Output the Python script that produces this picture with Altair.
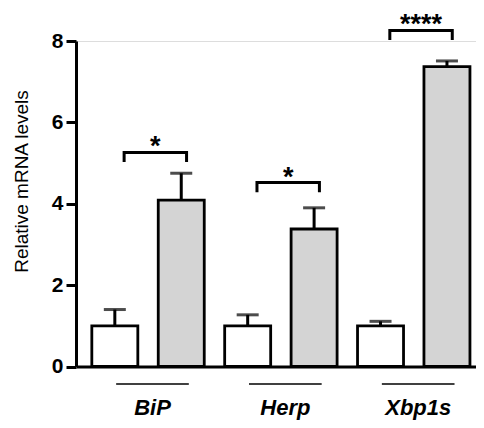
import altair as alt
import pandas as pd

# ---- data ----
genes = ["BiP", "Herp", "Xbp1s"]
control_mean = [1.0, 1.0, 1.0]
control_sem = [0.40, 0.27, 0.11]
treated_mean = [4.09, 3.38, 7.37]
treated_sem = [0.66, 0.52, 0.14]
bracket_y = [5.26, 4.52, 8.26]
stars = ["*", "*", "****"]
y_ticks = [0, 2, 4, 6, 8]

FONT = "Liberation Sans"
W, H = 400, 325.5

rows = []
for i, g in enumerate(genes):
    rows.append({"gene": g, "idx": i, "cond": "control", "mean": control_mean[i], "sem": control_sem[i]})
    rows.append({"gene": g, "idx": i, "cond": "treated", "mean": treated_mean[i], "sem": treated_sem[i]})
bars_df = pd.DataFrame(rows)

br_rows = []
for i, g in enumerate(genes):
    br_rows.append({"gene": g, "idx": i, "y": bracket_y[i], "star": stars[i]})
br_df = pd.DataFrame(br_rows)

xscale = alt.Scale(domain=[-0.5046, 2.431], nice=False, zero=False)
yscale = alt.Scale(domain=[0, 8], nice=False, clamp=False)

base = alt.Chart(bars_df).transform_calculate(
    xpos="datum.idx + (datum.cond == 'control' ? -0.25 : 0.25)",
    top="datum.mean + datum.sem",
)

bars = base.mark_bar(size=46, stroke="black", strokeWidth=2.8).encode(
    x=alt.X("xpos:Q", scale=xscale,
            axis=alt.Axis(labels=False, ticks=False, grid=False, title=None,
                          domainWidth=3, domainColor="black")),
    y=alt.Y("mean:Q", scale=yscale,
            axis=alt.Axis(values=y_ticks, title="Relative mRNA levels", grid=False,
                          domainWidth=3, domainColor="black", tickWidth=3, tickSize=10,
                          tickColor="black", labelFont=FONT, labelFontSize=21,
                          labelFontWeight="bold", labelColor="black", labelPadding=3,
                          titleFont=FONT, titleFontSize=19, titleFontWeight="normal",
                          titleColor="black", titlePadding=20, titleY=140)),
    fill=alt.Fill("cond:N", scale=alt.Scale(domain=["control", "treated"],
                                            range=["white", "#d4d4d4"]), legend=None),
)

err = base.mark_rule(strokeWidth=3, color="black").encode(
    x=alt.X("xpos:Q", scale=xscale),
    y=alt.Y("mean:Q", scale=yscale),
    y2="top:Q",
)

caps = base.mark_tick(orient="horizontal", size=22, thickness=3, color="black").encode(
    x=alt.X("xpos:Q", scale=xscale),
    y=alt.Y("top:Q", scale=yscale),
)

# brackets as 4-point lines
bracket = alt.Chart(br_df).transform_calculate(
    x1="datum.idx - 0.18", x2="datum.idx + 0.29", ylo="datum.y - 0.2"
).transform_fold(["p0", "p1", "p2", "p3"], as_=["pt", "dummy"]).transform_calculate(
    order="datum.pt == 'p0' ? 0 : datum.pt == 'p1' ? 1 : datum.pt == 'p2' ? 2 : 3",
    bx="(datum.pt == 'p0' || datum.pt == 'p1') ? datum.x1 : datum.x2",
    by="(datum.pt == 'p0' || datum.pt == 'p3') ? datum.ylo : datum.y",
).mark_line(color="black", strokeWidth=3, strokeJoin="miter", strokeCap="square").encode(
    x=alt.X("bx:Q", scale=xscale),
    y=alt.Y("by:Q", scale=yscale),
    detail="gene:N",
    order="order:Q",
)

star_text = alt.Chart(br_df).transform_calculate(
    sx="datum.idx + 0.055"
).mark_text(font=FONT, fontSize=27, fontWeight="bold", baseline="alphabetic",
            align="center", dy=3, color="black").encode(
    x=alt.X("sx:Q", scale=xscale),
    y=alt.Y("y:Q", scale=yscale),
    text="star:N",
)

gene_df = pd.DataFrame({"gene": genes, "idx": list(range(len(genes)))})
gene_lines = alt.Chart(gene_df).transform_calculate(
    lx1="datum.idx - 0.24", lx2="datum.idx + 0.307"
).mark_rule(color="black", strokeWidth=1.5).encode(
    x=alt.X("lx1:Q", scale=xscale),
    x2="lx2:Q",
    y=alt.value(H + 17.5),
)

gene_labels = alt.Chart(gene_df).transform_calculate(
    tx="datum.idx + 0.034"
).mark_text(font=FONT, fontSize=22, fontWeight="bold", fontStyle="italic",
            baseline="alphabetic", align="center", color="black").encode(
    x=alt.X("tx:Q", scale=xscale),
    y=alt.value(H + 48),
    text="gene:N",
)

chart = alt.layer(bars, err, caps, bracket, star_text, gene_lines, gene_labels).properties(
    width=W, height=H,
    autosize=alt.AutoSizeParams(type="none"),
    padding={"left": 68, "top": 33, "right": 0, "bottom": 60},
).configure_view(stroke=None).configure(background="white")

chart.save("out.html", embed_options={"renderer": "svg", "actions": False})
